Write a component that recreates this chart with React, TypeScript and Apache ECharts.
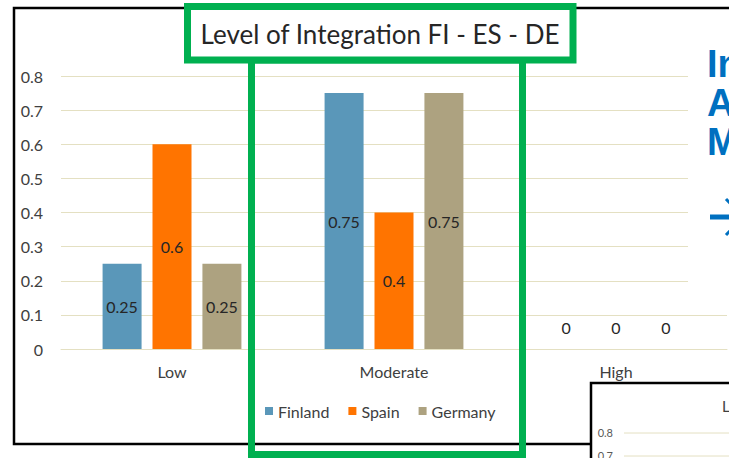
import React, { useEffect, useRef } from "react";
import * as echarts from "echarts";

const categories = ["Low", "Moderate", "High"];
const seriesNames = ["Finland", "Spain", "Germany"];
const finland = [0.25, 0.75, 0];
const spain = [0.6, 0.4, 0];
const germany = [0.25, 0.75, 0];
const seriesColors = ["#5A97B9", "#FF7400", "#ADA280"];
const titleText = "Level of Integration FI - ES - DE";
const sideLines = ["In", "A", "M"];
const insetTicks = ["0.8", "0.7"];

const FONT = "Lato, 'Liberation Sans', sans-serif";
const GRID_COLOR = "#E4E0C2";

export default function App() {
  const ref = useRef<HTMLDivElement>(null);

  useEffect(() => {
    if (!ref.current) return;
    const chart = echarts.init(ref.current, null, { renderer: "svg" });

    const mkData = (vals: number[]) =>
      vals.map((v) =>
        v === 0
          ? { value: v, label: { position: "top", distance: 14 } }
          : { value: v }
      );

    const allSeries = [finland, spain, germany].map((vals, i) => ({
      name: seriesNames[i],
      type: "bar",
      data: mkData(vals),
      barWidth: 39,
      barGap: "28%",
      itemStyle: { color: seriesColors[i] },
      label: {
        show: true,
        position: "inside",
        color: "#262626",
        fontSize: 16,
        fontFamily: FONT,
      },
      z: 2,
    }));

    const green = "#00B050";
    const graphics: any[] = [
      // main chart frame
      {
        type: "rect",
        z: 1,
        shape: { x: 14, y: 8, width: 800, height: 436 },
        style: { fill: "none", stroke: "#000", lineWidth: 2.5 },
      },
      // white text box covering right side
      {
        type: "rect",
        z: 100,
        shape: { x: 688, y: 30, width: 60, height: 270 },
        style: { fill: "#fff" },
      },
      {
        type: "text",
        z: 101,
        x: 707,
        y: 44,
        style: {
          text: sideLines.join("\n"),
          fill: "#0070C0",
          fontSize: 38,
          lineHeight: 39,
          fontWeight: "bold",
          fontFamily: "'Liberation Sans', Arial, sans-serif",
          verticalAlign: "top",
          align: "left",
        },
      },
      {
        type: "line",
        z: 101,
        shape: { x1: 710, y1: 217, x2: 740, y2: 217 },
        style: { stroke: "#0070C0", lineWidth: 5 },
      },
      {
        type: "polyline",
        z: 101,
        shape: { points: [[726, 199], [743, 217], [726, 235]] },
        style: { stroke: "#0070C0", lineWidth: 3, fill: "none" },
      },
      // inset second chart
      {
        type: "rect",
        z: 100,
        shape: { x: 591, y: 383, width: 200, height: 120 },
        style: { fill: "#fff", stroke: "#000", lineWidth: 2.5 },
      },
      {
        type: "text",
        z: 101,
        x: 722,
        y: 406,
        style: {
          text: "L",
          fill: "#404040",
          fontSize: 15,
          fontFamily: FONT,
          verticalAlign: "middle",
        },
      },
      ...insetTicks.map((t, i) => ({
        type: "text",
        z: 101,
        x: 613,
        y: [432, 455][i],
        style: {
          text: t,
          fill: "#595959",
          fontSize: 11,
          fontFamily: FONT,
          verticalAlign: "middle",
          align: "right",
        },
      })),
      ...[433, 456].map((yy) => ({
        type: "line",
        z: 101,
        shape: { x1: 624, y1: yy, x2: 740, y2: yy },
        style: { stroke: GRID_COLOR, lineWidth: 1 },
      })),
      // green highlight boxes
      {
        type: "rect",
        z: 110,
        shape: { x: 251.5, y: 60, width: 271, height: 394.5 },
        style: { fill: "none", stroke: green, lineWidth: 7 },
      },
      {
        type: "rect",
        z: 111,
        shape: { x: 187.5, y: 6.5, width: 385.5, height: 53.5 },
        style: { fill: "#fff", stroke: green, lineWidth: 7 },
      },
      {
        type: "text",
        z: 112,
        x: 380,
        y: 34,
        style: {
          text: titleText,
          fill: "#262626",
          fontSize: 26,
          fontFamily: FONT,
          align: "center",
          verticalAlign: "middle",
        },
      },
    ];

    chart.setOption({
      animation: false,
      backgroundColor: "#ffffff",
      textStyle: { fontFamily: FONT },
      grid: { left: 61, top: 76, width: 666, height: 273, containLabel: false },
      legend: {
        data: seriesNames,
        left: 265,
        top: 403,
        padding: 0,
        icon: "rect",
        itemWidth: 8,
        itemHeight: 8,
        itemGap: 19,
        textStyle: { color: "#404040", fontSize: 16, fontFamily: FONT },
      },
      xAxis: {
        type: "category",
        data: categories,
        axisLine: { show: true, lineStyle: { color: GRID_COLOR, width: 1 } },
        axisTick: { show: false },
        axisLabel: {
          color: "#404040",
          fontSize: 16,
          fontFamily: FONT,
          margin: 14,
        },
      },
      yAxis: {
        type: "value",
        min: 0,
        max: 0.8,
        interval: 0.1,
        axisLine: { show: false },
        axisTick: { show: false },
        axisLabel: {
          color: "#404040",
          fontSize: 16,
          fontFamily: FONT,
          margin: 18,
        },
        splitLine: { lineStyle: { color: GRID_COLOR, width: 1 } },
      },
      series: allSeries,
      graphic: graphics,
    });

    return () => chart.dispose();
  }, []);

  return (
    <div
      ref={ref}
      style={{ position: "fixed", left: 0, top: 0, width: 729, height: 458 }}
    />
  );
}
